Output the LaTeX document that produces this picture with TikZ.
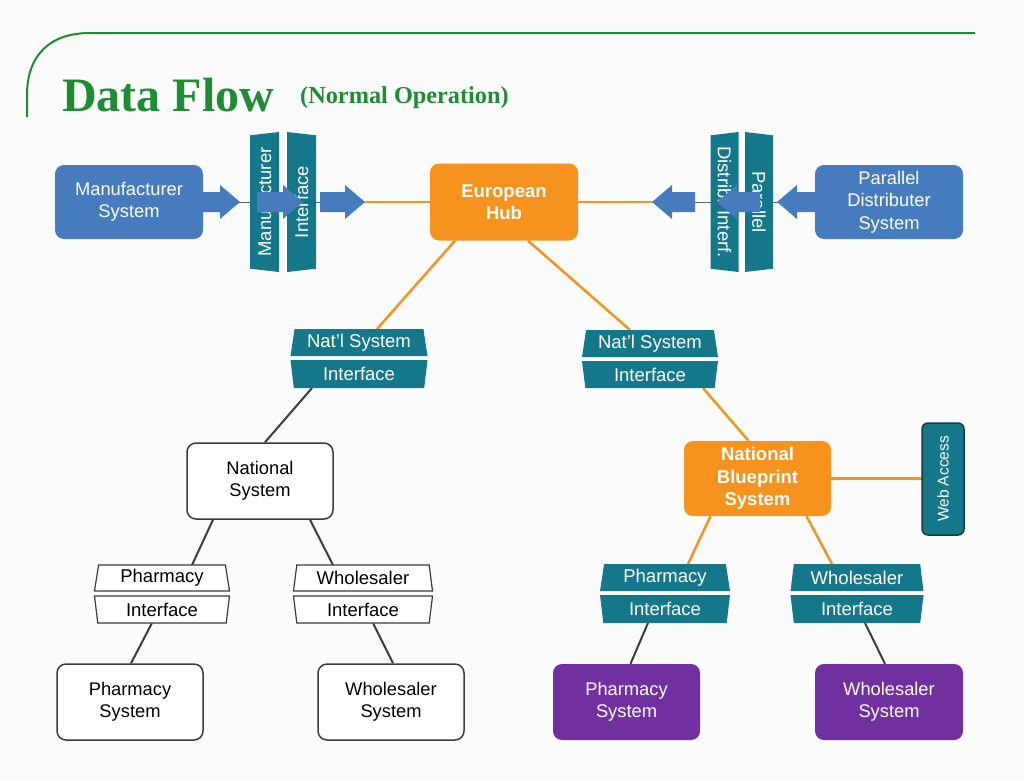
\documentclass[tikz,border=0pt]{standalone}
\usepackage{fontspec}
\setmainfont{Liberation Sans}
\newfontfamily\titlefont{Liberation Serif}
\usetikzlibrary{shapes.geometric,calc}
\pgfdeclarelayer{bgfill}
\pgfdeclarelayer{lines}
\pgfsetlayers{bgfill,lines,main}
\definecolor{bluebox}{RGB}{70,124,190}
\definecolor{tealc}{RGB}{21,120,138}
\definecolor{orangec}{RGB}{246,146,30}
\definecolor{purplec}{RGB}{112,48,160}
\definecolor{greenc}{RGB}{30,140,50}
\definecolor{darkline}{RGB}{60,60,60}
\definecolor{webborder}{RGB}{25,60,65}
\definecolor{bgc}{RGB}{251,251,251}
\begin{document}
\begin{tikzpicture}[x=1pt,y=-1pt,
  box/.style={rounded corners=9pt, minimum width=148pt, minimum height=74pt, align=center,
    font=\fontsize{18.3}{22.5}\selectfont, inner sep=2pt},
  bluebx/.style={box, fill=bluebox, text=white},
  orangebx/.style={box, fill=orangec, text=white, font=\fontsize{18.5}{22.5}\selectfont\bfseries},
  whitebx/.style={box, fill=white, draw=darkline, line width=1.5pt, text=black},
  purplebx/.style={box, fill=purplec, text=white},
  trapbase/.style={trapezium, trapezium stretches body, trapezium angle=78, inner sep=1pt,
    font=\fontsize{18.5}{20}\selectfont},
  tealtrap/.style={trapbase, fill=tealc, text=white},
  whitetrap/.style={trapbase, fill=white, draw=darkline, line width=1.2pt, text=black},
  orln/.style={draw=orangec, line width=2.5pt},
  dkln/.style={draw=darkline, line width=2pt},
  thinln/.style={draw=darkline!80, line width=1pt},
  pics/rarr/.style={code={\fill[bluebox] (-#1,-10) -- (-20,-10) -- (-20,-17) -- (0,0) -- (-20,17) -- (-20,10) -- (-#1,10) -- cycle;}}
]
\begin{pgfonlayer}{bgfill}
\fill[bgc] (0,0) rectangle (1024,780);
\end{pgfonlayer}
\useasboundingbox (0,0) rectangle (1024,780);

% header
\draw[greenc, line width=2pt] (27,117) -- (27,95) .. controls (27,55) and (50,33) .. (90,33) -- (975,33);
\node[anchor=base west, inner sep=0pt, text=greenc, font=\titlefont\bfseries\fontsize{48}{50}\selectfont] (title) at (62,111) {Data Flow};
\node[anchor=base west, inner sep=0pt, text=greenc, font=\titlefont\bfseries\fontsize{24.3}{26}\selectfont] (subtitle) at (300,103) {(Normal Operation)};

% boxes
\node[bluebx] (mfr) at (129,202) {Manufacturer\\System};
\node[bluebx] (pds) at (889,202) {Parallel\\Distributer\\System};
\node[orangebx, minimum height=77pt] (hub) at (504,202) {European\\Hub};
\node[whitebx, minimum width=146pt, minimum height=76pt] (natsys) at (260,481) {National\\System};
\node[orangebx, minimum width=147pt, minimum height=75pt] (nbs) at (757.5,478.5) {National\\Blueprint\\System};
\node[whitebx, minimum width=146pt, minimum height=76pt] (phsys) at (130,702) {Pharmacy\\System};
\node[whitebx, minimum width=146pt, minimum height=76pt] (whsys) at (391,702) {Wholesaler\\System};
\node[purplebx, minimum width=147pt, minimum height=76pt] (phsysr) at (626.5,702) {Pharmacy\\System};
\node[purplebx, minimum width=148pt, minimum height=76pt] (whsysr) at (889,702) {Wholesaler\\System};
\node[rotate=90, fill=tealc, draw=webborder, line width=1.5pt, rounded corners=6pt,
  minimum width=112pt, minimum height=42pt, text=white, font=\fontsize{15.5}{18}\selectfont] (web) at (943,479) {Web Access};

% horizontal interfaces
\node[tealtrap, minimum width=137pt, minimum height=27pt] (ni1t) at (359,342.5) {Nat'l System};
\node[tealtrap, shape border rotate=180, minimum width=137pt, minimum height=28pt] (ni1b) at (359,374) {Interface};
\node[tealtrap, minimum width=136pt, minimum height=27pt] (ni2t) at (650,343.5) {Nat'l System};
\node[tealtrap, shape border rotate=180, minimum width=136pt, minimum height=27pt] (ni2b) at (650,374.5) {Interface};

\node[whitetrap, minimum width=135pt, minimum height=26pt] (phi1t) at (162,578) {Pharmacy};
\node[whitetrap, shape border rotate=180, minimum width=135pt, minimum height=27pt] (phi1b) at (162,609.5) {Interface};
\node[whitetrap, minimum width=139pt, minimum height=26pt] (whi1t) at (363,578) {Wholesaler};
\node[whitetrap, shape border rotate=180, minimum width=139pt, minimum height=27pt] (whi1b) at (363,609.5) {Interface};

\node[tealtrap, minimum width=130pt, minimum height=27pt] (phi2t) at (665,577.5) {Pharmacy};
\node[tealtrap, shape border rotate=180, minimum width=130pt, minimum height=28pt] (phi2b) at (665,609) {Interface};
\node[tealtrap, minimum width=133pt, minimum height=27pt] (whi2t) at (857,577.5) {Wholesaler};
\node[tealtrap, shape border rotate=180, minimum width=133pt, minimum height=28pt] (whi2b) at (857,609) {Interface};

% vertical interfaces
\node[tealtrap, rotate=90, minimum width=140pt, minimum height=29pt] (mi1) at (264.5,202) {Manufacturer};
\node[tealtrap, rotate=90, shape border rotate=180, minimum width=140pt, minimum height=29pt] (mi2) at (301.5,202) {Interface};
\node[tealtrap, rotate=-90, shape border rotate=180, minimum width=140pt, minimum height=28pt] (pi1) at (724.5,202) {Distrib. Interf.};
\node[tealtrap, rotate=-90, minimum width=140pt, minimum height=28pt] (pi2) at (759,202) {Parallel};

\coordinate (a3tip) at (365,202);
\coordinate (aAtip) at (652,202);

% connectors
\begin{pgfonlayer}{lines}
\draw[thinln] (mfr.east) -- (hub.west);
\draw[thinln] (hub.east) -- (pds.west);
\draw[orln] (a3tip) -- (hub.west);
\draw[orln] (hub.east) -- (aAtip);
\draw[orln] ([xshift=-49pt]hub.south) -- ([xshift=18pt,yshift=13.5pt]ni1t.center);
\draw[orln] ([xshift=24pt]hub.south) -- ([xshift=-20pt,yshift=13.5pt]ni2t.center);
\draw[orln] ([xshift=53pt,yshift=-13.5pt]ni2b.center) -- ([xshift=-9pt]nbs.north);
\draw[dkln] ([xshift=-47pt,yshift=-14pt]ni1b.center) -- ([xshift=5pt]natsys.north);
\draw[dkln] ([xshift=-47pt]natsys.south) -- ([xshift=30pt,yshift=13pt]phi1t.center);
\draw[dkln] ([xshift=50pt]natsys.south) -- ([xshift=-30pt,yshift=13pt]whi1t.center);
\draw[dkln] ([xshift=-10pt,yshift=-13.5pt]phi1b.center) -- ([xshift=1pt]phsys.north);
\draw[dkln] ([xshift=10pt,yshift=-13.5pt]whi1b.center) -- ([xshift=2pt]whsys.north);
\draw[orln] ([xshift=-47pt]nbs.south) -- ([xshift=23pt,yshift=13.5pt]phi2t.center);
\draw[orln] ([xshift=49pt]nbs.south) -- ([xshift=-25pt,yshift=13.5pt]whi2t.center);
\draw[dkln] ([xshift=-17pt,yshift=-14pt]phi2b.center) -- ([xshift=4pt]phsysr.north);
\draw[dkln] ([xshift=8pt,yshift=-14pt]whi2b.center) -- ([xshift=-4pt]whsysr.north);
\draw[orln] (nbs.east) -- (web.center |- nbs.east);
\end{pgfonlayer}

% block arrows
\pic at (240,202) {rarr=40};
\pic at (303,202) {rarr=46};
\pic at (a3tip) {rarr=45};
\pic[rotate=180] at (aAtip) {rarr=43};
\pic[rotate=180] at (717,202) {rarr=43};
\pic[rotate=180] at (777,202) {rarr=40};
\end{tikzpicture}
\end{document}
